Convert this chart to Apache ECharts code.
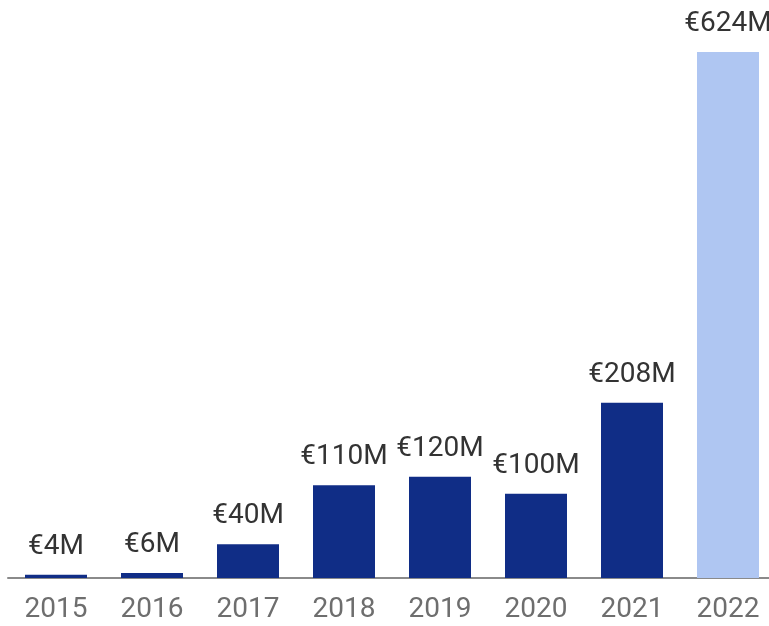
<!DOCTYPE html>
<html>
<head>
<meta charset="utf-8">
<script src="https://cdn.jsdelivr.net/npm/echarts@6/dist/echarts.min.js"></script>
<style>
html,body{margin:0;padding:0;background:#fff;}
#c{width:769px;height:626px;}
</style>
</head>
<body>
<div id="c"></div>
<script>
const years = ['2015','2016','2017','2018','2019','2020','2021','2022'];
const values = [4, 6, 40, 110, 120, 100, 208, 624];
const labels = ['€4M','€6M','€40M','€110M','€120M','€100M','€208M','€624M'];
const highlightIndex = 7;

const chart = echarts.init(document.getElementById('c'));
chart.setOption({
  animation: false,
  grid: { left: 8, right: -7, top: 52, bottom: 48, containLabel: false, outerBoundsMode: 'none' },
  xAxis: {
    type: 'category',
    data: years,
    axisLine: { lineStyle: { color: '#8a8a8a', width: 2 } },
    axisTick: { show: false },
    axisLabel: { color: '#6e6e6e', fontSize: 28, fontFamily: 'Roboto', margin: 18 }
  },
  yAxis: {
    type: 'value', min: 0, max: 624,
    show: false, splitLine: { show: false }
  },
  series: [{
    type: 'bar',
    barWidth: 62,
    data: values.map((v, i) => ({
      value: v,
      itemStyle: { color: i === highlightIndex ? '#afc6f2' : '#102d86' }
    })),
    label: {
      show: true, position: 'top', distance: 14,
      color: '#333333', fontSize: 28, fontFamily: 'Roboto',
      formatter: p => labels[p.dataIndex]
    }
  }]
});
</script>
</body>
</html>
